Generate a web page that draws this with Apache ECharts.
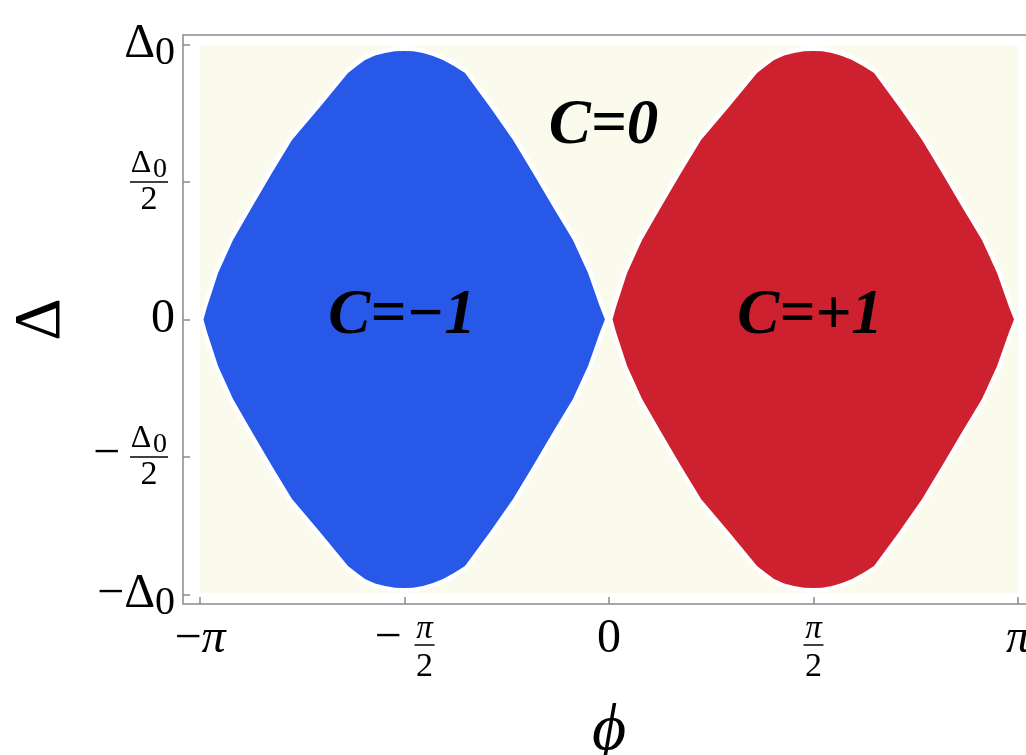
<!DOCTYPE html>
<html>
<head>
<meta charset="utf-8">
<script src="https://cdn.jsdelivr.net/npm/echarts@6/dist/echarts.min.js"></script>
<style>
html,body{margin:0;padding:0;background:#ffffff;}
#chart{width:1026px;height:755px;}
</style>
</head>
<body>
<div id="chart"></div>
<script>
// ---------- data ----------
const PI = Math.PI;
const xTickValues = [-PI, -PI / 2, 0, PI / 2, PI];
const xTickLabels = ['−π', '−π/2', '0', 'π/2', 'π'];
const yTickValues = [-1, -0.5, 0, 0.5, 1];
const yTickLabels = ['−Δ0', '−Δ0/2', '0', 'Δ0/2', 'Δ0'];
const xName = 'ϕ';
const yName = 'Δ';

// plotted region (φ from -π to π, Δ close to ±Δ0)
const regionPhi = [-PI, PI];
const regionDelta = [-0.995, 0.995];

// boundary of the C = -1 lobe, upper and lower edges
const bluePhi = [-3.115, -3.088, -3.003, -2.888, -2.742, -2.589, -2.435, -2.220, -2.005, -1.936, -1.874, -1.797,
                 -1.721, -1.644, -1.574, -1.505, -1.429, -1.352, -1.275, -1.191, -1.106, -0.914, -0.737,
                 -0.584, -0.430, -0.277, -0.161, -0.069, -0.031];
const blueUpper = [0, 0.045, 0.169, 0.289, 0.409, 0.533, 0.653, 0.773, 0.896, 0.922, 0.944, 0.960,
                   0.969, 0.975, 0.976, 0.975, 0.969, 0.958, 0.944, 0.922, 0.896, 0.773, 0.653,
                   0.533, 0.409, 0.289, 0.169, 0.045, 0];
const blueLower = [0, -0.045, -0.169, -0.289, -0.409, -0.533, -0.653, -0.773, -0.896, -0.922, -0.944, -0.960,
                   -0.969, -0.975, -0.976, -0.975, -0.969, -0.958, -0.944, -0.922, -0.896, -0.773, -0.653,
                   -0.533, -0.409, -0.289, -0.169, -0.045, 0];

// boundary of the C = +1 lobe
const redPhi = [0.027, 0.054, 0.139, 0.254, 0.400, 0.553, 0.707, 0.922, 1.137, 1.206, 1.268, 1.345,
                1.421, 1.498, 1.568, 1.637, 1.713, 1.790, 1.867, 1.951, 2.036, 2.228, 2.405,
                2.558, 2.712, 2.865, 2.981, 3.073, 3.111];
const redUpper = [0, 0.045, 0.169, 0.289, 0.409, 0.533, 0.653, 0.773, 0.896, 0.922, 0.944, 0.960,
                  0.969, 0.975, 0.976, 0.975, 0.969, 0.958, 0.944, 0.922, 0.896, 0.773, 0.653,
                  0.533, 0.409, 0.289, 0.169, 0.045, 0];
const redLower = [0, -0.045, -0.169, -0.289, -0.409, -0.533, -0.653, -0.773, -0.896, -0.922, -0.944, -0.960,
                  -0.969, -0.975, -0.976, -0.975, -0.969, -0.958, -0.944, -0.922, -0.896, -0.773, -0.653,
                  -0.533, -0.409, -0.289, -0.169, -0.045, 0];

const regionLabels = ['C=0', 'C=−1', 'C=+1'];
const labelPhi = [-0.042, -1.590, 1.544];
const labelDelta = [0.700, 0.010, 0.010];

// ---------- styling ----------
const F = "'Liberation Serif', 'DejaVu Serif', serif";
const AX = '#8a8a8a';
const CREAM = '#FAFBEC';
const lobes = [
  { phi: bluePhi, upper: blueUpper, lower: blueLower, color: '#2858E8' },
  { phi: redPhi, upper: redUpper, lower: redLower, color: '#CD2130' }
];

function lobePoints(api, lobe) {
  const pts = [];
  for (let i = 0; i < lobe.phi.length; i++) pts.push(api.coord([lobe.phi[i], lobe.upper[i]]));
  for (let i = lobe.phi.length - 1; i >= 0; i--) pts.push(api.coord([lobe.phi[i], lobe.lower[i]]));
  return pts;
}

function richLabel(str) {
  let sign = false;
  let s = str;
  if (s.charAt(0) === '−') { sign = true; s = s.slice(1); }
  const piece = (t, frac) => {
    if (t === 'Δ0') return frac ? '{fD|Δ}{fs|0}' : '{D|Δ}{s|0}';
    if (t === 'π') return frac ? '{fpi|π}' : '{pi|π}';
    return frac ? '{fd|' + t + '}' : '{n|' + t + '}';
  };
  if (s.indexOf('/') >= 0) {
    const parts = s.split('/');
    const sp = sign ? '{sp|}' : '';
    const m = sign ? '{fm|−}' : '';
    return sp + piece(parts[0], true) + '{tr|}\n' + m + '{bar| }{tr|}\n' + sp + piece(parts[1], true) + '{tr|}';
  }
  return (sign ? '{m|−}' : '') + piece(s, false);
}

function findLabel(values, labels, v) {
  for (let i = 0; i < values.length; i++) if (Math.abs(values[i] - v) < 1e-6) return labels[i];
  return '';
}

const xRich = {
  n: { fontSize: 48, lineHeight: 46, fontFamily: F, color: '#000' },
  m: { fontSize: 48, lineHeight: 46, fontFamily: F, color: '#000' },
  pi: { fontSize: 48, lineHeight: 46, fontFamily: F, fontStyle: 'italic', color: '#000' },
  sp: { width: 40, align: 'left', lineHeight: 1 },
  fm: { fontSize: 48, width: 40, align: 'left', lineHeight: 6, padding: [0, 0, 14, 0], fontFamily: F, color: '#000' },
  fpi: { fontSize: 33, fontStyle: 'italic', width: 20, align: 'center', lineHeight: 26, fontFamily: F, color: '#000' },
  bar: { width: 20, height: 1.5, lineHeight: 6, backgroundColor: '#000', align: 'center' },
  fd: { fontSize: 34, width: 20, align: 'center', lineHeight: 38, fontFamily: F, color: '#000' },
  tr: { width: 0, align: 'center', lineHeight: 1 }
};
const yRich = {
  n: { fontSize: 48, lineHeight: 46, fontFamily: F, color: '#000' },
  m: { fontSize: 48, lineHeight: 46, fontFamily: F, color: '#000' },
  D: { fontSize: 48, lineHeight: 46, fontFamily: F, color: '#000' },
  s: { fontSize: 40, lineHeight: 46, padding: [18, 0, 0, 0], fontFamily: F, color: '#000' },
  sp: { width: 37, align: 'left', lineHeight: 1 },
  fm: { fontSize: 48, width: 37, align: 'left', lineHeight: 6, padding: [0, 0, 6, 0], fontFamily: F, color: '#000' },
  fD: { fontSize: 32, width: 22, align: 'center', lineHeight: 30, fontFamily: F, color: '#000' },
  fs: { fontSize: 28, width: 16, align: 'center', lineHeight: 30, padding: [11, 0, 0, 0], fontFamily: F, color: '#000' },
  bar: { width: 38, height: 1.5, lineHeight: 6, backgroundColor: '#000', align: 'center' },
  fd: { fontSize: 34, width: 38, align: 'center', lineHeight: 30, fontFamily: F, color: '#000' },
  tr: { width: 7, align: 'center', lineHeight: 1 }
};

const chart = echarts.init(document.getElementById('chart'), null, { renderer: 'canvas' });
chart.setOption({
  animation: false,
  backgroundColor: '#ffffff',
  grid: {
    left: 183, top: 35, width: 852, height: 569,
    show: true, borderColor: AX, borderWidth: 1.5, backgroundColor: 'transparent',
    containLabel: false, outerBoundsMode: 'none'
  },
  xAxis: {
    type: 'value', min: -3.2722, max: 3.2722,
    splitLine: { show: false },
    axisLine: { show: false, onZero: false },
    axisTick: { show: true, inside: true, length: 7, customValues: xTickValues, lineStyle: { color: AX, width: 1.5 } },
    axisLabel: {
      customValues: xTickValues, margin: 12, color: '#000', fontFamily: F,
      formatter: (v) => richLabel(findLabel(xTickValues, xTickLabels, v)),
      rich: xRich
    },
    name: xName, nameLocation: 'middle', nameGap: 95, nameMoveOverlap: false,
    nameTextStyle: { fontSize: 66, fontStyle: 'italic', fontFamily: F, color: '#000' }
  },
  yAxis: {
    type: 'value', min: -1.0345, max: 1.0345,
    splitLine: { show: false },
    axisLine: { show: false, onZero: false },
    axisTick: { show: true, inside: true, length: 7, customValues: yTickValues, lineStyle: { color: AX, width: 1.5 } },
    axisLabel: {
      customValues: yTickValues, margin: 8, color: '#000', fontFamily: F,
      formatter: (v) => richLabel(findLabel(yTickValues, yTickLabels, v)),
      rich: yRich
    },
    name: yName, nameLocation: 'middle', nameRotate: 90, nameGap: 108, nameMoveOverlap: false,
    nameTextStyle: { fontSize: 66, fontFamily: F, color: '#000' }
  },
  series: [
    {
      type: 'custom', name: 'region', z: 1, silent: true,
      data: [[0, 0]],
      renderItem: function (params, api) {
        const p0 = api.coord([regionPhi[0], regionDelta[1]]);
        const p1 = api.coord([regionPhi[1], regionDelta[0]]);
        return { type: 'rect', shape: { x: p0[0], y: p0[1], width: p1[0] - p0[0], height: p1[1] - p0[1] }, style: { fill: CREAM } };
      }
    },
    {
      type: 'custom', name: 'outline', z: 2, silent: true,
      data: [[0, 0], [1, 0]],
      renderItem: function (params, api) {
        const lobe = lobes[params.dataIndex];
        return { type: 'polygon', shape: { points: lobePoints(api, lobe) },
          style: { fill: '#ffffff', stroke: '#ffffff', lineWidth: 9, lineJoin: 'round' } };
      }
    },
    {
      type: 'custom', name: 'phases', z: 3, silent: true,
      data: [[0, 0], [1, 0]],
      renderItem: function (params, api) {
        const lobe = lobes[params.dataIndex];
        return { type: 'polygon', shape: { points: lobePoints(api, lobe) }, style: { fill: lobe.color } };
      }
    },
    {
      type: 'custom', name: 'labels', z: 4, silent: true,
      data: [[0, 0], [1, 0], [2, 0]],
      renderItem: function (params, api) {
        const i = params.dataIndex;
        const p = api.coord([labelPhi[i], labelDelta[i]]);
        return { type: 'text', x: p[0], y: p[1],
          style: { text: regionLabels[i], fill: '#000', fontSize: 63, fontStyle: 'italic', fontWeight: 'bold', fontFamily: F,
                   align: 'center', verticalAlign: 'middle' } };
      }
    }
  ]
});
</script>
</body>
</html>
